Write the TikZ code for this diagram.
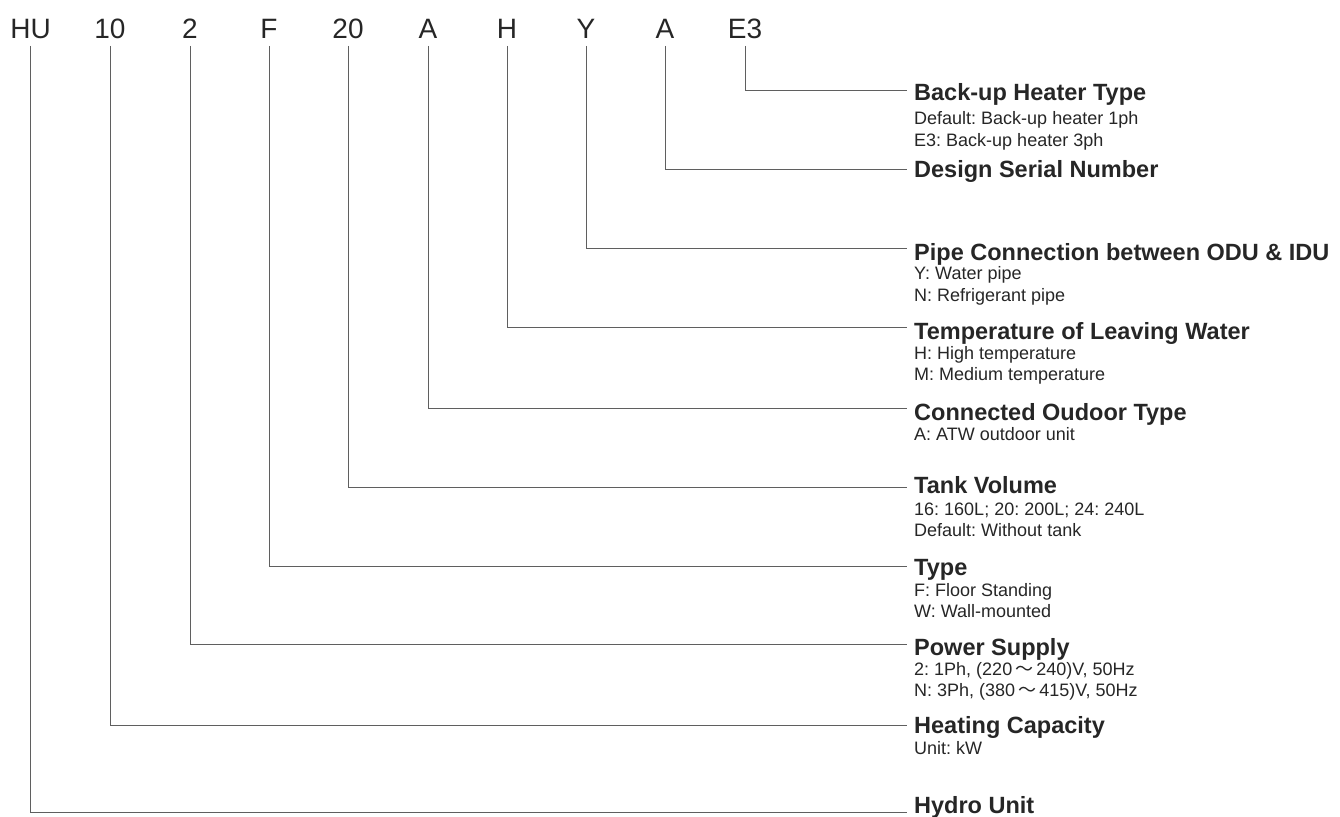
\documentclass[tikz,border=0pt]{standalone}
\usepackage{fontspec}
\setmainfont{Liberation Sans}
\newfontfamily\cjk{Noto Sans CJK SC}
\definecolor{txt}{RGB}{38,38,38}
\definecolor{ln}{RGB}{95,95,95}
\frenchspacing
\begin{document}
\begin{tikzpicture}[x=1pt,y=-1pt,
 code/.style={anchor=base,inner sep=0pt,font=\fontsize{28}{30}\selectfont,text=txt},
 ttl/.style={anchor=base west,inner sep=0pt,font=\bfseries\fontsize{23.5}{26}\selectfont,text=txt},
 sub/.style={anchor=base west,inner sep=0pt,font=\frenchspacing\fontsize{18}{20}\selectfont,text=txt},
 lead/.style={draw=ln,line width=1pt}]
\useasboundingbox (0,0) rectangle (1340,816);
% code letters
\node[code] (cHU) at (30.7,38) {HU};
\node[code] (c10) at (110,38) {10};
\node[code] (c2) at (190,38) {2};
\node[code] (cF) at (269,38) {F};
\node[code] (c20) at (348,38) {20};
\node[code] (cA1) at (428,38) {A};
\node[code] (cH) at (507,38) {H};
\node[code] (cY) at (586,38) {Y};
\node[code] (cA2) at (665,38) {A};
\node[code] (cE3) at (745,38) {E3};
% line ends
\coordinate (eE3) at (907,90);
\coordinate (eA2) at (907,169);
\coordinate (eY) at (907,248.5);
\coordinate (eH) at (907,327);
\coordinate (eA1) at (907,408);
\coordinate (e20) at (907,487);
\coordinate (eF) at (907,566.5);
\coordinate (e2) at (907,644.5);
\coordinate (e10) at (907,725);
\coordinate (eHU) at (907,812);
% titles and descriptions
\node[ttl] (tE3) at (914,100) {Back-up Heater Type};
\node[sub] (sE3a) at (914,124.3) {Default: Back-up heater 1ph};
\node[sub] (sE3b) at (914,146.3) {E3: Back-up heater 3ph};
\node[ttl] (tA2) at (914,177.5) {Design Serial Number};
\node[ttl] (tY) at (914,260) {Pipe Connection between ODU \& IDU};
\node[sub] (sYa) at (914,279.5) {Y: Water pipe};
\node[sub] (sYb) at (914,301.5) {N: Refrigerant pipe};
\node[ttl] (tH) at (914,339.5) {Temperature of Leaving Water};
\node[sub] (sHa) at (914,359.3) {H: High temperature};
\node[sub] (sHb) at (914,380.5) {M: Medium temperature};
\node[ttl] (tA1) at (914,420) {Connected Oudoor Type};
\node[sub] (sA1a) at (914,440) {A: ATW outdoor unit};
\node[ttl] (t20) at (914,493) {Tank Volume};
\node[sub] (s20a) at (914,515) {16: 160L; 20: 200L; 24: 240L};
\node[sub] (s20b) at (914,536.7) {Default: Without tank};
\node[ttl] (tF) at (914,575.5) {Type};
\node[sub] (sFa) at (914,596) {F: Floor Standing};
\node[sub] (sFb) at (914,617.7) {W: Wall-mounted};
\node[ttl] (t2) at (914,655) {Power Supply};
\node[sub] (s2a) at (914,675) {2: 1Ph, (220\,{\cjk ～}\,240)V, 50Hz};
\node[sub] (s2b) at (914,696.7) {N: 3Ph, (380\,{\cjk ～}\,415)V, 50Hz};
\node[ttl] (t10) at (914,733.5) {Heating Capacity};
\node[sub] (s10a) at (914,754.3) {Unit: kW};
\node[ttl] (tHU) at (914,813) {Hydro Unit};
% leaders
\foreach \c in {HU,10,2,F,20,A1,H,Y,A2,E3}{
  \draw[lead] ([yshift=-8pt]c\c.base) |- (e\c);
}
\end{tikzpicture}
\end{document}
